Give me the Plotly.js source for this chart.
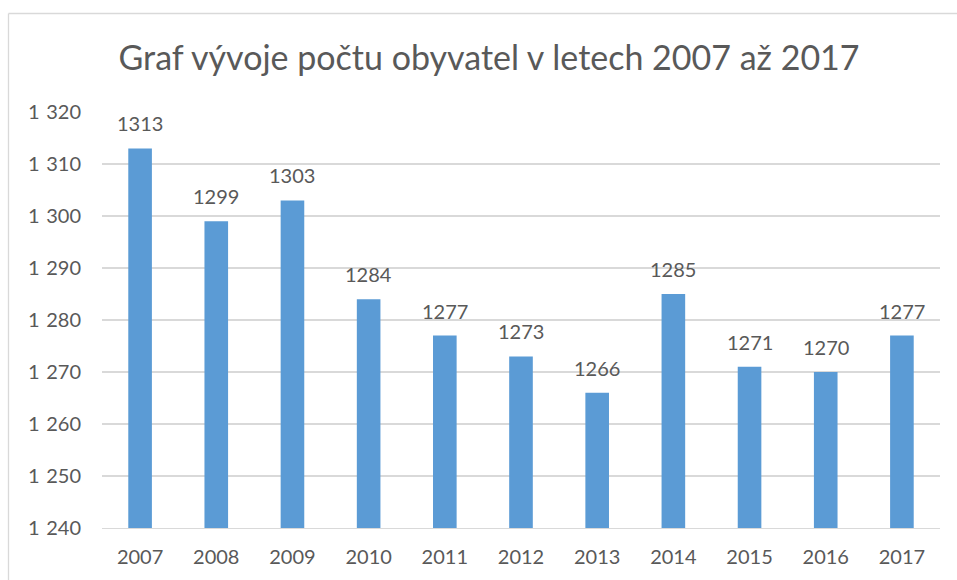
<!DOCTYPE html>
<html>
<head>
<meta charset="utf-8">
<script src="https://cdn.plot.ly/plotly-3.0.1.min.js"></script>
<style>html,body{margin:0;padding:0;background:#fff;}#chart{width:957px;height:580px;}</style>
</head>
<body>
<div id="chart"></div>
<script>
const years = ["2007","2008","2009","2010","2011","2012","2013","2014","2015","2016","2017"];
const population = [1313,1299,1303,1284,1277,1273,1266,1285,1271,1270,1277];
const yTicks = [1240,1250,1260,1270,1280,1290,1300,1310,1320];
const titleText = "Graf vývoje počtu obyvatel v letech 2007 až 2017";

const FONT = "Lato, 'Open Sans', sans-serif";
const TXT = "#595959";
const W = 957, H = 580;
const mL = 102, mR = 17, mT = 112, mB = 52;
const pw = W - mL - mR, ph = H - mT - mB;
const px = v => (v - mL) / pw;
const py = v => (H - mB - v) / ph;

const trace = {
  type: "bar",
  x: years,
  y: population,
  width: 0.31,
  marker: {color: "#5B9BD5"},
  hoverinfo: "x+y"
};

const annotations = years.map((yr, i) => ({
  x: i, y: population[i], xref: "x", yref: "y",
  text: String(population[i]), showarrow: false,
  yanchor: "bottom", yshift: 11,
  font: {family: FONT, size: 20, color: TXT}
}));

const layout = {
  width: W, height: H,
  margin: {l: mL, r: mR, t: mT, b: mB, pad: 0},
  paper_bgcolor: "#fff", plot_bgcolor: "#fff",
  separators: ".\u2004",
  showlegend: false,
  title: {text: titleText, x: 0.511, xanchor: "center", y: 1 - 58/H, yanchor: "middle",
          font: {family: FONT, size: 34, color: TXT}},
  xaxis: {type: "category", showgrid: false, showline: true, linecolor: "#D9D9D9", linewidth: 1.3,
          ticks: "", tickfont: {family: FONT, size: 20, color: TXT}, ticklabelstandoff: 11,
          range: [-0.5, years.length - 0.5], fixedrange: true},
  yaxis: {range: [1240, 1320], tickvals: yTicks, tickformat: ",d", showgrid: true,
          gridcolor: "#D9D9D9", gridwidth: 1.3, zeroline: false, showline: false, ticks: "",
          tickfont: {family: FONT, size: 20, color: TXT}, ticklabelstandoff: 20, fixedrange: true},
  annotations: annotations,
  shapes: [
    {type: "line", xref: "paper", yref: "paper", x0: px(8.5), x1: px(8.5), y0: py(13.5), y1: py(600),
     line: {color: "#D9D9D9", width: 1.3}},
    {type: "line", xref: "paper", yref: "paper", x0: px(8.5), x1: px(970), y0: py(13.5), y1: py(13.5),
     line: {color: "#D9D9D9", width: 1.3}}
  ]
};

Plotly.newPlot("chart", [trace], layout, {displayModeBar: false, staticPlot: true});
</script>
</body>
</html>
